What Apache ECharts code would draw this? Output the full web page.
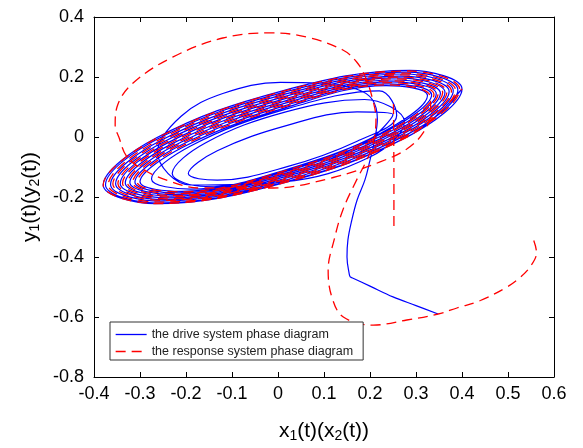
<!DOCTYPE html>
<html>
<head>
<meta charset="utf-8">
<script src="https://cdn.jsdelivr.net/npm/echarts@6/dist/echarts.min.js"></script>
<style>html,body{margin:0;padding:0;background:#fff}#c{width:583px;height:448px}</style>
</head>
<body>
<div id="c"></div>
<script>
// Tick values
const xTicks = [-0.4, -0.3, -0.2, -0.1, 0, 0.1, 0.2, 0.3, 0.4, 0.5, 0.6];
const yTicks = [-0.8, -0.6, -0.4, -0.2, 0, 0.2, 0.4];
const seriesNames = ['the drive system phase diagram', 'the response system phase diagram'];

// Drive system: entry path and first large loop
const driveStart = [
  [0.348,-0.590],[0.300,-0.562],[0.250,-0.533],[0.200,-0.497],[0.162,-0.470],[0.157,-0.466],[0.155,-0.458],
  [0.150,-0.400],[0.152,-0.343],[0.160,-0.280],[0.172,-0.210],[0.189,-0.143],[0.200,-0.077],[0.210,-0.010],
  [0.216,0.060],[0.205,0.125],[0.170,0.160],[0.090,0.180],[0.005,0.182],[-0.120,0.145],[-0.210,0.070],
  [-0.262,-0.050],[-0.190,-0.160],[0.010,-0.150],[0.202,-0.065],[0.275,0.050]
];
// Drive system: inner loops
const driveInner = [
  [0.188,0.125],[0.015,0.083],[-0.158,-0.020],[-0.230,-0.122],[-0.158,-0.165],[0.015,-0.122],[0.188,-0.020],[0.250,0.075],
  [0.172,0.084],[0.020,0.039],[-0.132,-0.046],[-0.195,-0.122],[-0.132,-0.144],[0.020,-0.099],[0.172,-0.014],[0.258,0.072],
  [0.220,0.154],[0.015,0.092],[-0.190,-0.030],[-0.275,-0.140],[-0.190,-0.174],[0.015,-0.112],[0.220,0.010]
];
// Drive system: outer band of loops
const driveBand = [
  [0.325,0.138],[0.235,0.171],[0.015,0.097],[-0.207,-0.034],[-0.300,-0.149],[-0.209,-0.181],[0.015,-0.110],[0.240,0.023],
  [0.334,0.141],[0.241,0.177],[0.014,0.104],[-0.215,-0.030],[-0.311,-0.150],[-0.217,-0.186],[0.014,-0.116],[0.246,0.020],
  [0.344,0.144],[0.248,0.184],[0.014,0.112],[-0.222,-0.026],[-0.322,-0.152],[-0.224,-0.192],[0.013,-0.122],[0.253,0.017],
  [0.353,0.146],[0.254,0.190],[0.013,0.119],[-0.230,-0.022],[-0.332,-0.153],[-0.232,-0.197],[0.013,-0.128],[0.259,0.015],
  [0.363,0.149],[0.261,0.197],[0.012,0.126],[-0.238,-0.018],[-0.343,-0.155],[-0.240,-0.203],[0.012,-0.134],[0.266,0.012],
  [0.372,0.152],[0.267,0.203],[0.012,0.134],[-0.246,-0.014],[-0.353,-0.156],[-0.248,-0.209],[0.011,-0.140],[0.272,0.010],
  [0.381,0.155],[0.274,0.210],[0.011,0.141],[-0.253,-0.010],[-0.364,-0.158],[-0.255,-0.214],[0.011,-0.146],[0.279,0.007],
  [0.391,0.157],[0.280,0.216],[0.010,0.148],[-0.261,-0.006],[-0.375,-0.159],[-0.263,-0.220],[0.010,-0.152],[0.285,0.004],
  [0.400,0.160],[0.286,0.222],[0.010,0.154],[-0.266,-0.004],[-0.380,-0.160],[-0.266,-0.222],[0.010,-0.154],[0.286,0.004],
  [0.400,0.160]
];

// Response system: hook at lower right and large upper loop
const responseStart = [
  [0.556,-0.345],[0.562,-0.385],[0.548,-0.433],[0.525,-0.470],[0.498,-0.500],[0.440,-0.545],[0.389,-0.570],
  [0.348,-0.590],[0.280,-0.610],[0.207,-0.627],[0.142,-0.600],[0.117,-0.533],[0.109,-0.443],[0.122,-0.343],
  [0.141,-0.243],[0.171,-0.143],[0.193,-0.077],[0.207,-0.020],[0.213,0.060],[0.205,0.130],[0.190,0.200],
  [0.171,0.250],[0.141,0.290],[0.063,0.333],[-0.017,0.347],[-0.120,0.330],[-0.228,0.267],[-0.315,0.180],
  [-0.350,0.100],[-0.354,0.040],[-0.346,0.000],[-0.328,-0.067],[-0.291,-0.110],[-0.240,-0.145],[-0.170,-0.170],
  [-0.010,-0.170],[0.120,-0.135],[0.222,-0.083],[0.280,-0.040],[0.315,0.013],[0.332,0.080]
];
// Response system: band of loops
const responseBand = [
  [0.330,0.139],[0.238,0.174],[0.015,0.101],[-0.211,-0.032],[-0.306,-0.150],[-0.213,-0.183],[0.014,-0.113],[0.243,0.021],
  [0.339,0.142],[0.245,0.181],[0.014,0.108],[-0.219,-0.028],[-0.316,-0.151],[-0.220,-0.189],[0.014,-0.119],[0.249,0.019],
  [0.348,0.145],[0.251,0.187],[0.013,0.115],[-0.226,-0.024],[-0.327,-0.153],[-0.228,-0.195],[0.013,-0.125],[0.256,0.016],
  [0.358,0.148],[0.258,0.194],[0.013,0.123],[-0.234,-0.020],[-0.338,-0.154],[-0.236,-0.200],[0.012,-0.131],[0.262,0.014],
  [0.367,0.150],[0.264,0.200],[0.012,0.130],[-0.242,-0.016],[-0.348,-0.156],[-0.244,-0.206],[0.012,-0.137],[0.269,0.011],
  [0.377,0.153],[0.271,0.207],[0.011,0.137],[-0.250,-0.012],[-0.359,-0.157],[-0.252,-0.211],[0.011,-0.143],[0.275,0.008],
  [0.386,0.156],[0.277,0.213],[0.011,0.145],[-0.257,-0.008],[-0.369,-0.159],[-0.259,-0.217],[0.010,-0.149],[0.282,0.006],
  [0.395,0.159],[0.284,0.220],[0.010,0.152],[-0.265,-0.005],[-0.380,-0.160],[-0.266,-0.222],[0.010,-0.154],[0.286,0.004],
  [0.400,0.160]
];
// Response system: vertical dashed segment
const responseJump = [[0.251,0.110],[0.252,-0.100],[0.252,-0.300]];

const driveData = driveStart.concat(driveInner, driveBand);
const responseData = responseStart.concat(responseBand);

const FONT = '"Liberation Sans", Arial, Helvetica, sans-serif';
const fmt = v => String(+(+v).toFixed(1));

const chart = echarts.init(document.getElementById('c'), null, {renderer: 'canvas'});
const axisCommon = {
  type: 'value',
  axisLine: {show: true, onZero: false, lineStyle: {color: '#000', width: 1}},
  axisTick: {show: true, inside: true, length: 5, lineStyle: {color: '#000', width: 1}},
  splitLine: {show: false}
};
const titleRich = {
  a: {fontFamily: FONT, fontSize: 21, color: '#000', lineHeight: 22, verticalAlign: 'top'},
  s: {fontFamily: FONT, fontSize: 14, color: '#000', lineHeight: 14, padding: [10, 0, 0, 0], verticalAlign: 'bottom'}
};
chart.setOption({
  animation: false,
  backgroundColor: '#fff',
  grid: {left: 94, right: 29, top: 17, bottom: 71, containLabel: false},
  xAxis: [
    Object.assign({}, axisCommon, {
      position: 'bottom',
      min: xTicks[0], max: xTicks[xTicks.length - 1], interval: 0.1,
      axisLabel: {show: true, margin: 8, fontSize: 18, fontFamily: FONT, color: '#000', formatter: fmt},
      name: '{a|x}{s|1}{a|(t)(x}{s|2}{a|(t))}',
      nameLocation: 'middle', nameGap: 44,
      nameTextStyle: {rich: titleRich}
    }),
    Object.assign({}, axisCommon, {
      position: 'top',
      min: xTicks[0], max: xTicks[xTicks.length - 1], interval: 0.1,
      axisLabel: {show: false}
    })
  ],
  yAxis: [
    Object.assign({}, axisCommon, {
      position: 'left',
      min: yTicks[0], max: yTicks[yTicks.length - 1], interval: 0.2,
      axisLabel: {show: true, margin: 10, fontSize: 18, fontFamily: FONT, color: '#000', formatter: fmt},
      name: '{a|y}{s|1}{a|(t)(y}{s|2}{a|(t))}',
      nameLocation: 'middle', nameGap: 50, nameRotate: 90,
      nameTextStyle: {rich: titleRich}
    }),
    Object.assign({}, axisCommon, {
      position: 'right',
      min: yTicks[0], max: yTicks[yTicks.length - 1], interval: 0.2,
      axisLabel: {show: false}
    })
  ],
  legend: {
    orient: 'vertical',
    left: 110, top: 322,
    data: seriesNames,
    itemWidth: 31, itemHeight: 14, itemGap: 4,
    padding: [6, 10, 2, 5],
    borderColor: '#333', borderWidth: 1, backgroundColor: '#fff',
    itemStyle: {color: 'rgba(0,0,0,0)', borderColor: 'rgba(0,0,0,0)', borderWidth: 0},
    lineStyle: {width: 1.3},
    textStyle: {fontFamily: FONT, fontSize: 12.5, color: '#222'},
    selectedMode: false
  },
  series: [
    {
      name: seriesNames[0], type: 'line', data: driveData,
      symbol: 'none', showSymbol: false, smooth: 0.375,
      lineStyle: {color: '#0000ff', width: 1.2},
      itemStyle: {color: '#0000ff'}
    },
    {
      name: seriesNames[1], type: 'line', data: responseData,
      symbol: 'none', showSymbol: false, smooth: 0.375,
      lineStyle: {color: '#ff0000', width: 1.3, type: [10, 6]},
      itemStyle: {color: '#ff0000'}
    },
    {
      name: seriesNames[1], type: 'line', data: responseJump,
      symbol: 'none', showSymbol: false,
      lineStyle: {color: '#ff0000', width: 1.3, type: [10, 6]},
      itemStyle: {color: '#ff0000'}
    }
  ]
});
</script>
</body>
</html>
